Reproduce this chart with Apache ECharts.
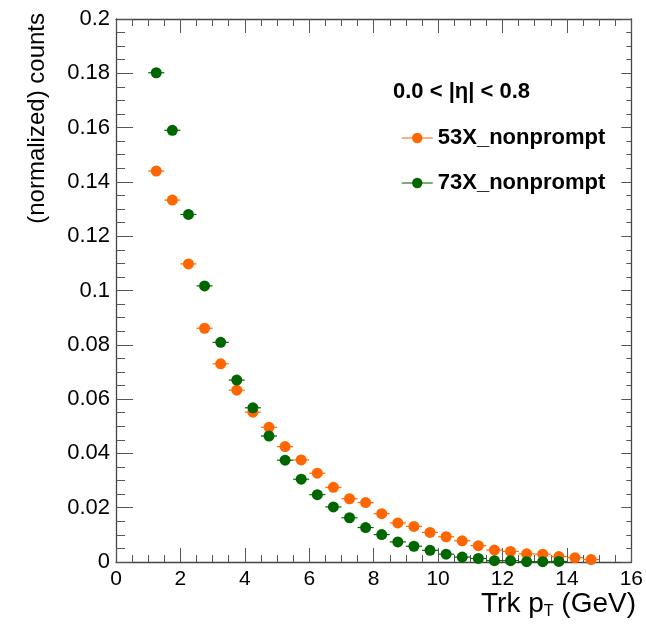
<!DOCTYPE html>
<html>
<head>
<meta charset="utf-8">
<script src="https://cdn.jsdelivr.net/npm/echarts@6/dist/echarts.min.js"></script>
<style>
html,body{margin:0;padding:0;background:#fff;}
#chart{width:646px;height:634px;}
</style>
</head>
<body>
<div id="chart"></div>
<script>
// bin centres (GeV)
var ptCenters53 = [1.25,1.75,2.25,2.75,3.25,3.75,4.25,4.75,5.25,5.75,6.25,6.75,7.25,7.75,8.25,8.75,9.25,9.75,10.25,10.75,11.25,11.75,12.25,12.75,13.25,13.75,14.25,14.75];
var counts53 = [0.144,0.1333,0.1098,0.0861,0.0730,0.0633,0.0552,0.0496,0.0425,0.0376,0.0327,0.0275,0.0233,0.0219,0.0178,0.0144,0.0131,0.0109,0.0093,0.0078,0.0060,0.0044,0.0039,0.0030,0.0029,0.0020,0.0016,0.0009];
var ptCenters73 = [1.25,1.75,2.25,2.75,3.25,3.75,4.25,4.75,5.25,5.75,6.25,6.75,7.25,7.75,8.25,8.75,9.25,9.75,10.25,10.75,11.25,11.75,12.25,12.75,13.25,13.75];
var counts73 = [0.1802,0.1590,0.1280,0.1017,0.0809,0.0670,0.0568,0.0464,0.0375,0.0305,0.0248,0.0203,0.0163,0.0127,0.0101,0.0074,0.0058,0.0043,0.0029,0.0018,0.0013,0.0005,0.0005,0.0001,0.0001,0.0002];
var binHalfWidth = 0.25;
var seriesNames = ['53X_nonprompt','73X_nonprompt'];
var seriesColors = ['#ff6600','#006600'];
var xTickRange = [0,16,2];
var yTickRange = [0,0.2,0.02];

function pairs(xs, ys){ return xs.map(function(x,i){ return [x, ys[i]]; }); }

var FONT = '"Liberation Sans", Arial, Helvetica, sans-serif';

function errBarSeries(name, data, color){
  return {
    type:'custom', name:name+'_err', data:data, z:2, silent:true,
    renderItem:function(params, api){
      var x = api.value(0), y = api.value(1);
      var p1 = api.coord([x-binHalfWidth, y]);
      var p2 = api.coord([x+binHalfWidth, y]);
      return {type:'line', shape:{x1:p1[0],y1:p1[1],x2:p2[0],y2:p2[1]},
              style:{stroke:color, lineWidth:1.2}};
    }
  };
}
function pointSeries(name, data, color){
  return {
    type:'line', name:name, data:data, z:3,
    symbol:'circle', symbolSize:11, showSymbol:true,
    itemStyle:{color:color},
    lineStyle:{width:0, opacity:0},
    emphasis:{disabled:true}
  };
}

var d53 = pairs(ptCenters53, counts53);
var d73 = pairs(ptCenters73, counts73);

function xAxisDef(pos, labels){
  return {
    type:'value', position:pos, min:xTickRange[0], max:xTickRange[1], interval:xTickRange[2],
    axisLine:{show:true, onZero:false, lineStyle:{color:'#444', width:1.3}},
    axisTick:{show:true, inside:true, length:14, lineStyle:{color:'#555', width:1}},
    minorTick:{show:true, splitNumber:4, length:7, lineStyle:{color:'#555', width:1}},
    splitLine:{show:false},
    axisLabel:{show:labels, margin:7, fontSize:21, color:'#000', fontFamily:FONT}
  };
}
function yAxisDef(pos, labels, major, minor){
  return {
    type:'value', position:pos, min:yTickRange[0], max:yTickRange[1], interval:yTickRange[2],
    axisLine:{show:true, onZero:false, lineStyle:{color:'#444', width:1.3}},
    axisTick:{show:true, inside:true, length:major, lineStyle:{color:'#555', width:1}},
    minorTick:{show:true, splitNumber:4, length:minor, lineStyle:{color:'#555', width:1}},
    splitLine:{show:false},
    axisLabel:{show:labels, margin:6, fontSize:22, color:'#000', fontFamily:FONT}
  };
}

var chart = echarts.init(document.getElementById('chart'), null, {renderer:'canvas'});
chart.setOption({
  animation:false,
  backgroundColor:'#fff',
  grid:{left:116, right:11, top:19, bottom:72, containLabel:false},
  xAxis:[xAxisDef('bottom', true), xAxisDef('top', false)],
  yAxis:[yAxisDef('left', true, 17, 9), yAxisDef('right', false, 10, 5)],
  title:{
    text:'0.0 < |η| < 0.8', left:388, top:76,
    textStyle:{fontSize:22, fontWeight:'bold', color:'#000', fontFamily:FONT}
  },
  legend:{
    orient:'vertical', left:396, top:122, itemGap:23,
    itemWidth:31, itemHeight:13, selectedMode:false,
    textStyle:{fontSize:22, fontWeight:'bold', color:'#000', fontFamily:FONT, padding:[0,0,0,0]},
    data:[
      {name:seriesNames[0], lineStyle:{width:1.5, opacity:0.7, color:seriesColors[0]}},
      {name:seriesNames[1], lineStyle:{width:1.5, opacity:0.7, color:seriesColors[1]}}
    ]
  },
  graphic:[
    {type:'text', x:37, y:13, rotation:Math.PI/2,
     style:{text:'(normalized) counts', fontSize:24, fill:'#000', fontFamily:FONT, align:'right', verticalAlign:'middle'}},
    {type:'text', right:10, top:590,
     style:{rich:{a:{fontSize:28, fill:'#000', fontFamily:FONT}, s:{fontSize:16, fill:'#000', fontFamily:FONT, padding:[16,0,0,0]}},
            text:'{a|Trk p}{s|T}{a| (GeV)}'}}
  ],
  series:[
    errBarSeries(seriesNames[0], d53, seriesColors[0]),
    errBarSeries(seriesNames[1], d73, seriesColors[1]),
    pointSeries(seriesNames[0], d53, seriesColors[0]),
    pointSeries(seriesNames[1], d73, seriesColors[1])
  ]
});
</script>
</body>
</html>
